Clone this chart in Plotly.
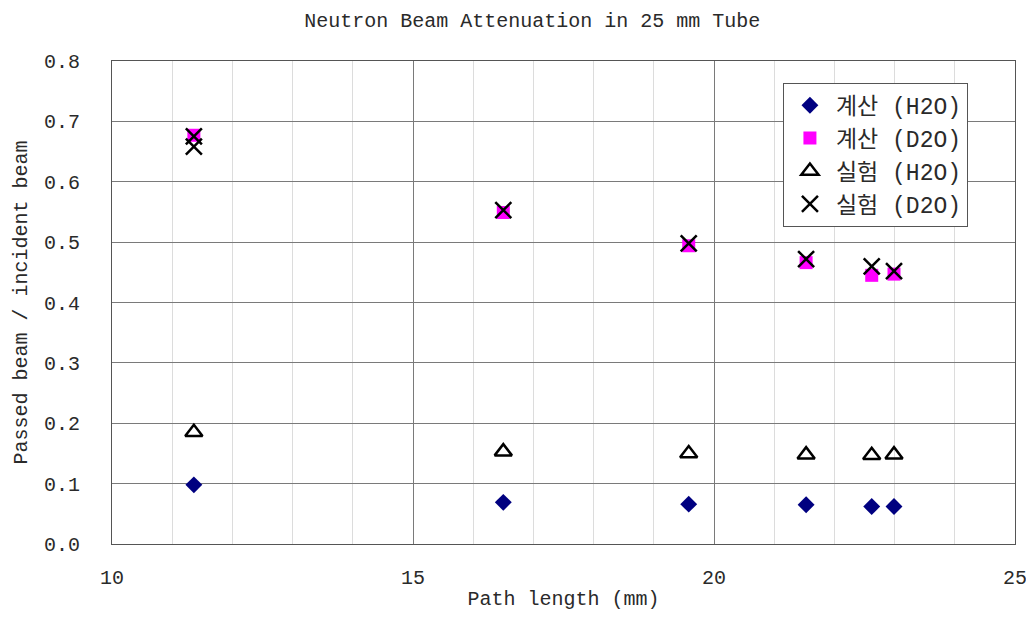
import plotly.graph_objects as go

title_text = "Neutron Beam Attenuation in 25 mm Tube"
x_title = "Path length (mm)"
y_title = "Passed beam / incident beam"

path_len = [11.36, 16.5, 19.58, 21.53, 22.62, 22.99]
calc_h2o = [0.098, 0.069, 0.066, 0.065, 0.062, 0.062]
calc_d2o = [0.677, 0.549, 0.494, 0.466, 0.445, 0.447]
exp_h2o = [0.185, 0.153, 0.150, 0.148, 0.147, 0.148]
exp_d2o_x = [11.36, 11.36, 16.5, 19.58, 21.53, 22.62, 22.99]
exp_d2o = [0.675, 0.658, 0.553, 0.498, 0.472, 0.460, 0.452]

names = ["계산 (H2O)", "계산 (D2O)", "실험 (H2O)", "실험 (D2O)"]

x_ticks = [10, 15, 20, 25]
y_ticks = [0.0, 0.1, 0.2, 0.3, 0.4, 0.5, 0.6, 0.7, 0.8]

FONT = "Liberation Mono, Noto Sans CJK KR, monospace"
TXT = "#2a2a2a"

fig = go.Figure()
fig.add_trace(go.Scatter(x=path_len, y=calc_h2o, mode="markers", name=names[0],
                         marker=dict(symbol="diamond", size=13, color="#000080")))
fig.add_trace(go.Scatter(x=path_len, y=calc_d2o, mode="markers", name=names[1],
                         marker=dict(symbol="square", size=13, color="#FF00FF")))
fig.add_trace(go.Scatter(x=path_len, y=exp_h2o, mode="markers", name=names[2],
                         marker=dict(symbol="triangle-up-open", size=15, color="black",
                                     line=dict(width=2.5, color="black"))))
fig.add_trace(go.Scatter(x=exp_d2o_x, y=exp_d2o, mode="markers", name=names[3],
                         marker=dict(symbol="x-thin-open", size=16, color="black",
                                     line=dict(width=2.5, color="black"))))

fig.update_layout(
    width=1034, height=617,
    margin=dict(l=104, r=27, t=53, b=81),
    paper_bgcolor="white", plot_bgcolor="white",
    font=dict(family=FONT, size=20, color=TXT),
    title=dict(text=title_text, x=0.507, xanchor="center", y=0.98, yanchor="middle",
               font=dict(family=FONT, size=20, color=TXT)),
    showlegend=True,
    legend=dict(x=0.743, y=0.955, xanchor="left", yanchor="top",
                bgcolor="white", bordercolor="#555", borderwidth=1,
                font=dict(family=FONT, size=23, color=TXT),
                itemwidth=42, tracegroupgap=0),
)

fig.update_xaxes(
    range=[10, 25], tickvals=x_ticks, ticktext=[str(v) for v in x_ticks],
    showgrid=True, gridcolor="#7a7a7a", gridwidth=1,
    minor=dict(dtick=1, showgrid=True, gridcolor="#dcdcdc", gridwidth=1),
    showline=True, linecolor="#555", linewidth=1, mirror=True,
    zeroline=False, ticks="", ticklabelstandoff=15,
    tickfont=dict(family=FONT, size=20, color=TXT),
    title=dict(text=x_title, standoff=1, font=dict(family=FONT, size=20, color=TXT)),
)
fig.update_yaxes(
    range=[0, 0.8], tickvals=y_ticks, ticktext=[f"{v:.1f}" for v in y_ticks],
    showgrid=True, gridcolor="#7a7a7a", gridwidth=1,
    showline=True, linecolor="#555", linewidth=1, mirror=True,
    zeroline=False, ticks="", ticklabelstandoff=27,
    tickfont=dict(family=FONT, size=20, color=TXT),
    title=dict(text=y_title, standoff=10, font=dict(family=FONT, size=20, color=TXT)),
)

fig.write_html("out.html")
